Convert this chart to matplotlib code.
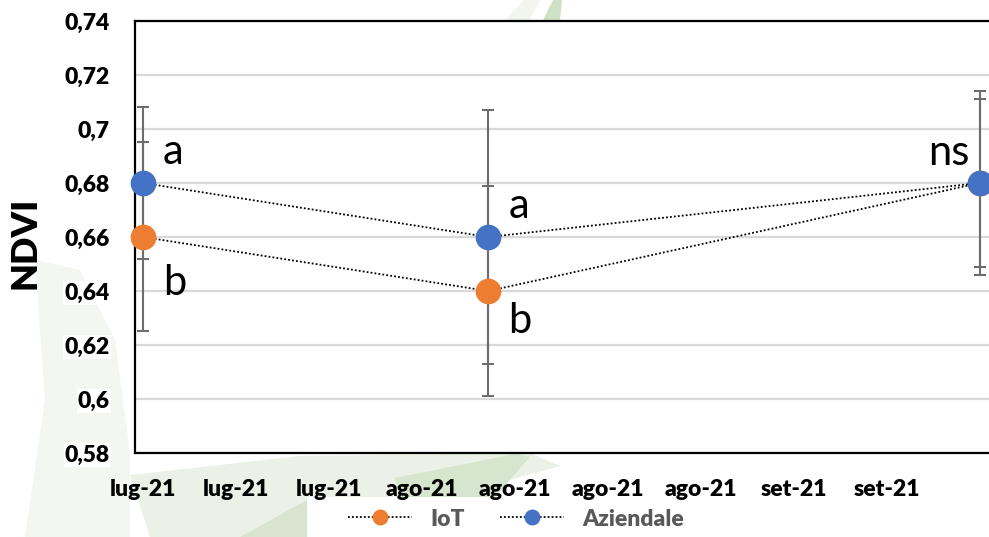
import numpy as np
import matplotlib
matplotlib.use('Agg')
import matplotlib.pyplot as plt
from matplotlib.patches import Polygon, Rectangle

plt.rcParams['font.family'] = ['Lato', 'DejaVu Sans']

# survey dates as days after 15 Jul 2021 (10 Aug, 16 Sep)
days = [0, 26, 63]
iot = [0.66, 0.64, 0.68]
iot_err = [0.035, 0.039, 0.031]
aziendale = [0.68, 0.66, 0.68]
aziendale_err = [0.028, 0.047, 0.034]
iot_letters = ['b', 'b', '']
aziendale_letters = ['a', 'a', 'ns']

xtick_days = [0, 7, 14, 21, 28, 35, 42, 49, 56]
xtick_labels = ['lug-21', 'lug-21', 'lug-21', 'ago-21', 'ago-21', 'ago-21', 'ago-21', 'set-21', 'set-21']
ytick_values = [0.58, 0.60, 0.62, 0.64, 0.66, 0.68, 0.70, 0.72, 0.74]
ytick_labels = ['0,58', '0,6', '0,62', '0,64', '0,66', '0,68', '0,7', '0,72', '0,74']

W, H = 989, 537
fig = plt.figure(figsize=(W / 100, H / 100), dpi=100)
fig.patch.set_facecolor('white')

# faint leaf shapes of the slide background
bg = fig.add_axes([0, 0, 1, 1], zorder=-1)
bg.set_xlim(0, W)
bg.set_ylim(H, 0)
bg.axis('off')
shapes = [
    ([(35, 260), (80, 270), (115, 340), (130, 453), (130, 537), (25, 537), (45, 400)], '#f4f6f2'),
    ([(130, 475), (300, 456), (530, 453), (560, 466), (307, 537), (150, 537)], '#ebf1e6'),
    ([(395, 478), (515, 454), (530, 457), (495, 497), (400, 497)], '#d6e5cd'),
    ([(240, 537), (307, 500), (307, 537)], '#d8e4d0'),
    ([(505, 20), (524, 0), (540, 0), (530, 20)], '#f2f6ef'),
    ([(543, 20), (553, 0), (562, 0), (560, 20)], '#cfe1c4'),
]
for pts, c in shapes:
    bg.add_patch(Polygon(pts, closed=True, facecolor=c, edgecolor='none'))
bg.add_patch(Rectangle((307, 497), 430, 41, facecolor='white', edgecolor='none'))

ax = fig.add_axes([135 / W, 1 - 453 / H, (993 - 135) / W, (453 - 21) / H])
ax.set_facecolor('white')

err_kw = dict(fmt='none', ecolor='#6d6d6d', elinewidth=1.5, capsize=4.5, capthick=1.5, zorder=3)
ax.errorbar(days, iot, yerr=iot_err, **err_kw)
ax.errorbar(days, aziendale, yerr=aziendale_err, **err_kw)

line_kw = dict(color='black', lw=1.3, linestyle=(0, (1, 1.2)), marker='o', markersize=18.5,
               markeredgewidth=0, clip_on=False, zorder=4)
ax.plot(days, iot, markerfacecolor='#ed7d31', label='IoT', **line_kw)
ax.plot(days, aziendale, markerfacecolor='#4472c4', label='Aziendale', **line_kw)

# significance letters, offsets in pixels from each marker
letter_fs = 30
for i, t in enumerate(aziendale_letters):
    if t == 'ns':
        off, ha = (-10, 18), 'right'
    else:
        off, ha = (20, 19), 'left'
    ax.annotate(t, (days[i], aziendale[i]), xytext=(off[0] * 0.72, off[1] * 0.72),
                textcoords='offset points', ha=ha, va='baseline', fontsize=letter_fs, zorder=5)
iot_off = [(20, -58), (20, -42), (0, 0)]
for i, t in enumerate(iot_letters):
    if t:
        ax.annotate(t, (days[i], iot[i]), xytext=(iot_off[i][0] * 0.72, iot_off[i][1] * 0.72),
                    textcoords='offset points', ha='left', va='baseline', fontsize=letter_fs, zorder=5)

ax.set_xlim(-0.6, 64.0)
ax.set_ylim(0.58, 0.74)
ax.set_xticks(xtick_days)
ax.set_xticklabels(xtick_labels, fontsize=16.5, fontweight='heavy')
ax.set_yticks(ytick_values)
ax.set_yticklabels(ytick_labels, fontsize=16.5, fontweight='heavy')
for lab in ax.get_yticklabels():
    lab.set_bbox(dict(facecolor='white', edgecolor='none', pad=1))
ax.tick_params(axis='both', length=0)
ax.tick_params(axis='y', pad=18)
ax.tick_params(axis='x', pad=19)

ax.yaxis.grid(True, color='#d9d9d9', lw=1.6)
ax.set_axisbelow(True)
for s in ['left', 'top', 'bottom']:
    ax.spines[s].set_linewidth(1.6)
    ax.spines[s].set_color('black')
ax.spines['right'].set_visible(False)

ax.set_ylabel('NDVI', fontsize=26, fontweight='heavy', va='center')
ax.yaxis.set_label_coords(-0.128, 0.486)

leg = fig.legend(loc='center', bbox_to_anchor=(516 / W, 1 - 519 / H), ncol=2, frameon=False,
                 prop={'weight': 'heavy', 'size': 16.5}, markerscale=0.62,
                 handlelength=2.8, handletextpad=0.8, columnspacing=1.5, labelcolor='#595959')

fig.savefig('out.png', dpi=100)
